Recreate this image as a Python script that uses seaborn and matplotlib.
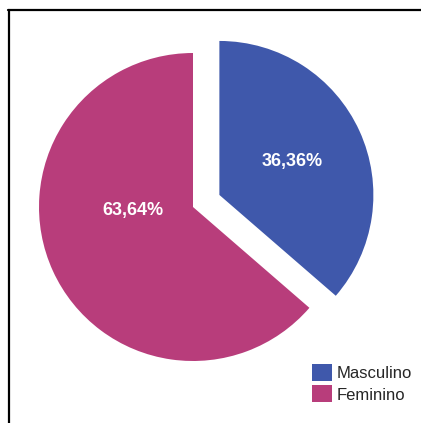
import matplotlib
matplotlib.use("Agg")
import matplotlib.pyplot as plt
from matplotlib.lines import Line2D
import seaborn as sns

# Gender distribution
categories = ["Masculino", "Feminino"]
percentages = [36.36, 63.64]
colors = ["#3f58ab", "#b83d7b"]

sns.set_theme(style="white")
plt.rcParams["font.family"] = ["Liberation Sans", "DejaVu Sans"]
palette = sns.color_palette(colors)

W, H = 421, 423
fig = plt.figure(figsize=(W / 100, H / 100), dpi=100)
fig.patch.set_facecolor("white")
ax = fig.add_axes([0, 0, 1, 1])
ax.set_xlim(0, W)
ax.set_ylim(0, H)
ax.set_aspect("equal")
ax.axis("off")

radius = 154
center = (193, H - 207)
wedges, texts, autotexts = ax.pie(
    percentages,
    colors=palette,
    startangle=90,
    counterclock=False,
    explode=[29, 0],  # offset in data units
    radius=radius,
    center=center,
    autopct=lambda p: f"{p:.2f}%".replace(".", ","),
    pctdistance=0.52,
    textprops=dict(color="white", fontsize=13, fontweight="bold"),
    wedgeprops=dict(linewidth=0),
    frame=False,
)
ax.set_xlim(0, W)
ax.set_ylim(0, H)
# place the larger slice's label closer to the horizontal
autotexts[1].set_position((133, H - 210))

fig.legend(
    wedges, categories,
    loc="upper left", bbox_to_anchor=(312 / W, 1 - 364 / H),
    frameon=False, fontsize=12,
    handlelength=1.2, handleheight=1.2, handletextpad=0.3,
    labelspacing=0.25, borderpad=0, borderaxespad=0,
)

# frame along the top and left edges
fig.add_artist(Line2D([8 / W, 1], [1 - 10.5 / H, 1 - 10.5 / H],
                      transform=fig.transFigure, color="black", lw=1.6))
fig.add_artist(Line2D([8.5 / W, 8.5 / W], [0, 1 - 10 / H],
                      transform=fig.transFigure, color="black", lw=1.6))

fig.savefig("out.png", dpi=100)
